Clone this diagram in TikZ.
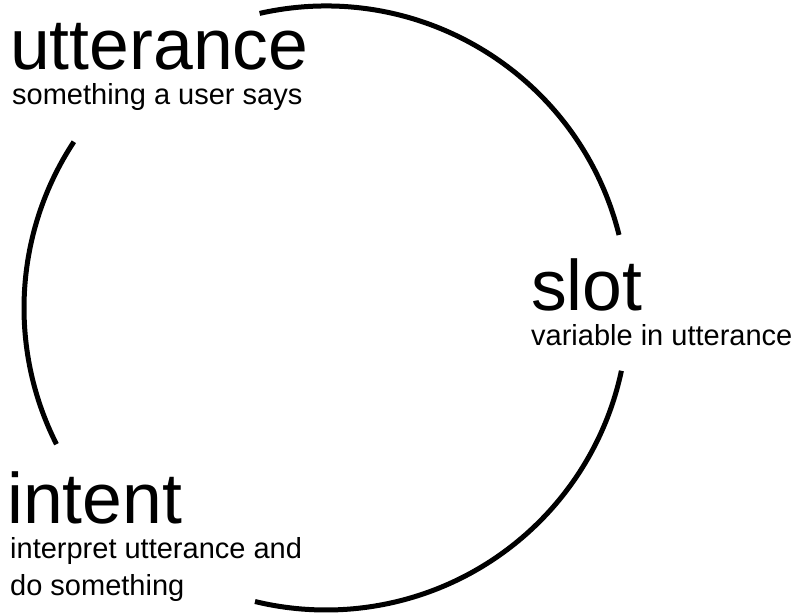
\documentclass[tikz,border=0pt]{standalone}
\usepackage{fontspec}
\setmainfont{Liberation Sans}
\usepackage{tikz}

\tikzset{
	term/.style = {anchor = base west, inner sep = 0, font = \fontsize{71.5}{72}\selectfont},
	gloss/.style = {anchor = base west, inner sep = 0, align = left, font = \fontsize{29}{37}\selectfont},
	ring/.style = {line width = 5pt}
}

\begin{document}
\begin{tikzpicture}[x = 1pt, y = 1pt]
	\useasboundingbox (0,0) rectangle (800,614);
	\coordinate (c) at (326,306);
	% the three pieces of the circle
	\draw [ring] (c) ++(102.7:302) arc [start angle = 102.7, end angle = 14, radius = 302pt];
	\draw [ring] (c) ++(-12:302) arc [start angle = -12, end angle = -103.6, radius = 302pt];
	\draw [ring] (c) ++(146.6:302) arc [start angle = 146.6, end angle = 206.8, radius = 302pt];
	% labels
	\node [term] (utt) at (10,544) {utterance};
	\node [gloss] (uttdesc) at (12,509) {something a user says};
	\node [term] (slot) at (531,304) {slot};
	\node [gloss] (slotdesc) at (531,269) {variable in utterance};
	\node [term] (intent) at (7,91) {intent};
	\node [gloss] (intentdesc) at (10,19) {interpret utterance and\\do something};
\end{tikzpicture}
\end{document}
